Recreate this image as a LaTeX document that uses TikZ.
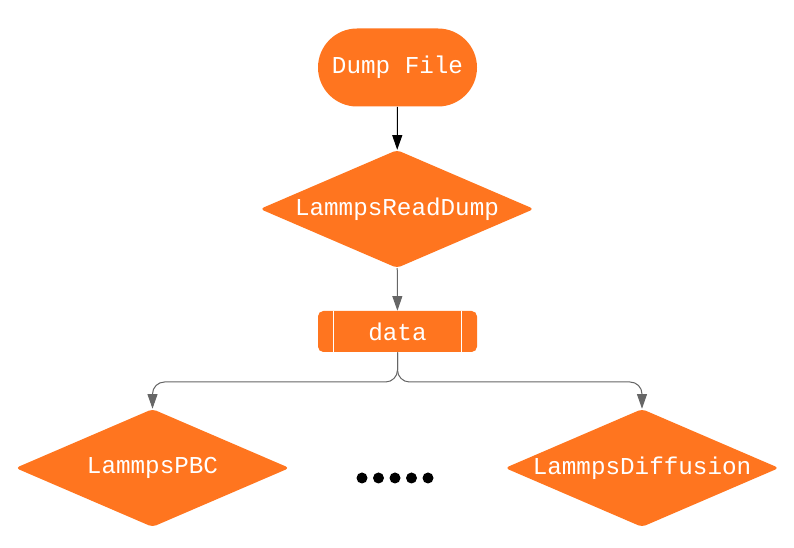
\documentclass[tikz,border=0pt]{standalone}
\usepackage{fontspec}
\setmonofont{Liberation Mono}
\usetikzlibrary{shapes.geometric,shapes.misc,arrows.meta}
\definecolor{orng}{RGB}{255,117,31}
\definecolor{lgray}{RGB}{102,102,102}
\begin{document}
\begin{tikzpicture}[x=0.75pt,y=-0.75pt,
  lbl/.style={text=white,font=\ttfamily\fontsize{18.2}{20}\selectfont},
  stad/.style={lbl,fill=orng,rounded rectangle,minimum width=159*0.75pt,minimum height=78*0.75pt,inner sep=0pt},
  dmd/.style={lbl,fill=orng,diamond,aspect=2.33,minimum width=274*0.75pt,minimum height=118*0.75pt,inner sep=0pt,rounded corners=3pt},
  procbox/.style={lbl,fill=orng,rectangle,rounded corners=4pt,minimum width=159*0.75pt,minimum height=41*0.75pt,inner sep=0pt},
  blackarr/.style={line width=0.75pt,black,-{Triangle[length=11pt,width=7.5pt]}},
  grayarr/.style={line width=0.75pt,lgray,-{Triangle[length=11pt,width=7.5pt]}},
  dotmark/.style={fill=black,draw=none}
]
\useasboundingbox (0,0) rectangle (794,548);
\node[stad] (dump) at (397.5,67.5) {Dump File};
\node[dmd] (read) at (397,209) {LammpsReadDump};
\node[procbox] (data) at (397.5,331.5) {data};
\draw[white,line width=0.75pt] ([xshift=-64.5*0.75pt]data.north) -- ([xshift=-64.5*0.75pt]data.south);
\draw[white,line width=0.75pt] ([xshift=63.5*0.75pt]data.north) -- ([xshift=63.5*0.75pt]data.south);
\node[dmd] (pbc) at (152.5,468) {LammpsPBC};
\node[dmd] (diff) at (642,468) {LammpsDiffusion};
\coordinate (br) at (397.5,382);
\draw[blackarr] (dump) -- (read);
\draw[grayarr] (read) -- (data);
\draw[grayarr,rounded corners=9pt] (data.south) -- (br) -| (pbc.north);
\draw[grayarr,rounded corners=9pt] (data.south) -- (br) -| (diff.north);
\foreach \i in {0,...,4} \fill[dotmark] (362+16.5*\i,478) circle (5.5);
\end{tikzpicture}
\end{document}
